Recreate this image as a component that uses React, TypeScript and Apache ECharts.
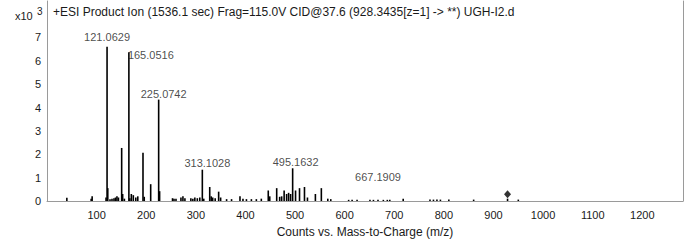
import React, { useEffect, useRef } from "react";
import * as echarts from "echarts";

// Spectrum peaks: m/z and intensity (x10^3 counts)
const peakMz = [
  40, 89, 91, 119, 121.0629, 122.5, 127, 131, 135, 138, 141, 144, 150.5, 152.5, 156,
  165.0516, 167, 170, 174, 179, 183, 193.5, 196, 209, 225.0742, 227,
  253, 256, 260, 270, 274, 278, 290, 294, 298, 303, 308, 313.1028, 316,
  328, 331, 334, 339, 346, 350, 362, 372, 389, 395, 402, 412, 422, 432,
  446, 449, 463, 469, 473, 478, 483, 487, 491, 495.1632, 501, 509, 519, 525,
  541, 553, 566, 572, 608, 615, 625, 651, 658, 667.1909, 678, 686, 691,
  718, 772, 779, 786, 793, 810, 860, 928.3435, 950,
];
const peakIntensity = [
  0.14, 0.1, 0.2, 0.15, 6.6, 0.55, 0.08, 0.1, 0.12, 0.15, 0.2, 0.15, 2.27, 0.3, 0.1,
  6.37, 0.12, 0.3, 0.25, 0.15, 0.2, 2.07, 0.18, 0.72, 4.34, 0.42,
  0.12, 0.1, 0.1, 0.15, 0.2, 0.12, 0.12, 0.1, 0.15, 0.12, 0.15, 1.34, 0.1,
  0.6, 0.2, 0.15, 0.12, 0.4, 0.15, 0.08, 0.08, 0.2, 0.1, 0.08, 0.08, 0.08, 0.1,
  0.45, 0.2, 0.55, 0.18, 0.2, 0.45, 0.3, 0.35, 0.3, 1.4, 0.45, 0.55, 0.6, 0.15,
  0.3, 0.55, 0.1, 0.08, 0.05, 0.05, 0.05, 0.05, 0.05, 0.05, 0.05, 0.05, 0.05,
  0.1, 0.06, 0.06, 0.06, 0.06, 0.06, 0.06, 0.1, 0.06,
];

// Annotated peaks
const labeledMz = [121.0629, 165.0516, 225.0742, 313.1028, 495.1632, 667.1909];
const labeledIntensity = [6.6, 6.37, 4.34, 1.34, 1.4, 0.05];

// Precursor marker
const precursorMz = [928.3435];
const precursorIntensity = [0.29];

const xTickValues = [100, 200, 300, 400, 500, 600, 700, 800, 900, 1000, 1100, 1200];
const yTickValues = [0, 1, 2, 3, 4, 5, 6, 7];

const titleText =
  "+ESI Product Ion (1536.1 sec) Frag=115.0V CID@37.6 (928.3435[z=1] -> **) UGH-I2.d";
const xAxisTitle = "Counts vs. Mass-to-Charge (m/z)";

// label placement styles (per annotated peak)
const labelPlacement: any[] = [
  { position: "top", distance: 4, offset: [0, 0] },
  { position: "right", distance: 0, offset: [-1, 3] },
  { position: "top", distance: 0, offset: [5, 0] },
  { position: "top", distance: 1, offset: [5, 0] },
  { position: "top", distance: 1, offset: [3, 0] },
  { position: "top", distance: 17, offset: [0, 0] },
];

const FONT = "Liberation Sans, Arial, sans-serif";
const TEXT = "#1a1a1a";
const AXIS = "#9a9a9a";

export default function App() {
  const ref = useRef<HTMLDivElement>(null);
  useEffect(() => {
    if (!ref.current) return;
    const chart = echarts.init(ref.current, null, { renderer: "svg" });
    const bars = peakMz.map((m, i) => [m, peakIntensity[i]]);
    const labels = labeledMz.map((m, i) => ({
      value: [m, labeledIntensity[i]],
      label: {
        show: true,
        formatter: m.toFixed(4),
        fontSize: 11,
        fontFamily: FONT,
        color: TEXT,
        ...labelPlacement[i],
      },
    }));
    const prec = precursorMz.map((m, i) => [m, precursorIntensity[i]]);
    chart.setOption({
      animation: false,
      grid: { left: 47, right: 3, top: 1, bottom: 38, containLabel: false },
      xAxis: {
        type: "value",
        min: 0,
        max: 1282,
        interval: 100,
        axisLine: { show: true, lineStyle: { color: AXIS, width: 1 } },
        axisTick: { show: false },
        splitLine: { show: false },
        axisLabel: {
          fontSize: 11,
          fontFamily: FONT,
          color: TEXT,
          margin: 8,
          formatter: (v: number) => (xTickValues.includes(v) ? String(v) : ""),
        },
        name: xAxisTitle,
        nameLocation: "middle",
        nameGap: 25,
        nameTextStyle: { fontSize: 12, fontFamily: FONT, color: TEXT },
      },
      yAxis: [
        {
          type: "value",
          min: 0,
          max: 8.56,
          interval: 1,
          axisLine: { show: true, lineStyle: { color: AXIS, width: 1 } },
          axisTick: { show: false },
          splitLine: { show: false },
          axisLabel: {
            fontSize: 11,
            fontFamily: FONT,
            color: TEXT,
            margin: 6,
            showMaxLabel: false,
            formatter: (v: number) => (yTickValues.includes(v) ? String(v) : ""),
          },
        },
        {
          type: "value",
          position: "right",
          min: 0,
          max: 8.56,
          axisLine: { show: true, lineStyle: { color: AXIS, width: 1 } },
          axisTick: { show: false },
          axisLabel: { show: false },
          splitLine: { show: false },
        },
      ],
      series: [
        {
          type: "bar",
          data: bars,
          barWidth: 1.6,
          itemStyle: { color: "#000" },
          silent: true,
        },
        {
          type: "scatter",
          data: labels,
          symbolSize: 0,
          silent: true,
          z: 5,
        },
        {
          type: "scatter",
          data: prec,
          symbol: "diamond",
          symbolSize: [7, 8],
          itemStyle: { color: "#000" },
          silent: true,
        },
      ],
      graphic: [
        {
          type: "text",
          left: 15,
          top: 10,
          style: { text: "x10", fontSize: 11, fontFamily: FONT, fill: TEXT },
        },
        {
          type: "text",
          left: 37,
          top: 6,
          style: { text: "3", fontSize: 10, fontFamily: FONT, fill: TEXT },
        },
        {
          type: "text",
          left: 53,
          top: 6,
          style: { text: titleText, fontSize: 12, fontFamily: FONT, fill: TEXT },
        },
      ],
    });
    return () => chart.dispose();
  }, []);
  return <div ref={ref} style={{ width: 686, height: 243, position: "absolute", left: 0, top: 0 }} />;
}
